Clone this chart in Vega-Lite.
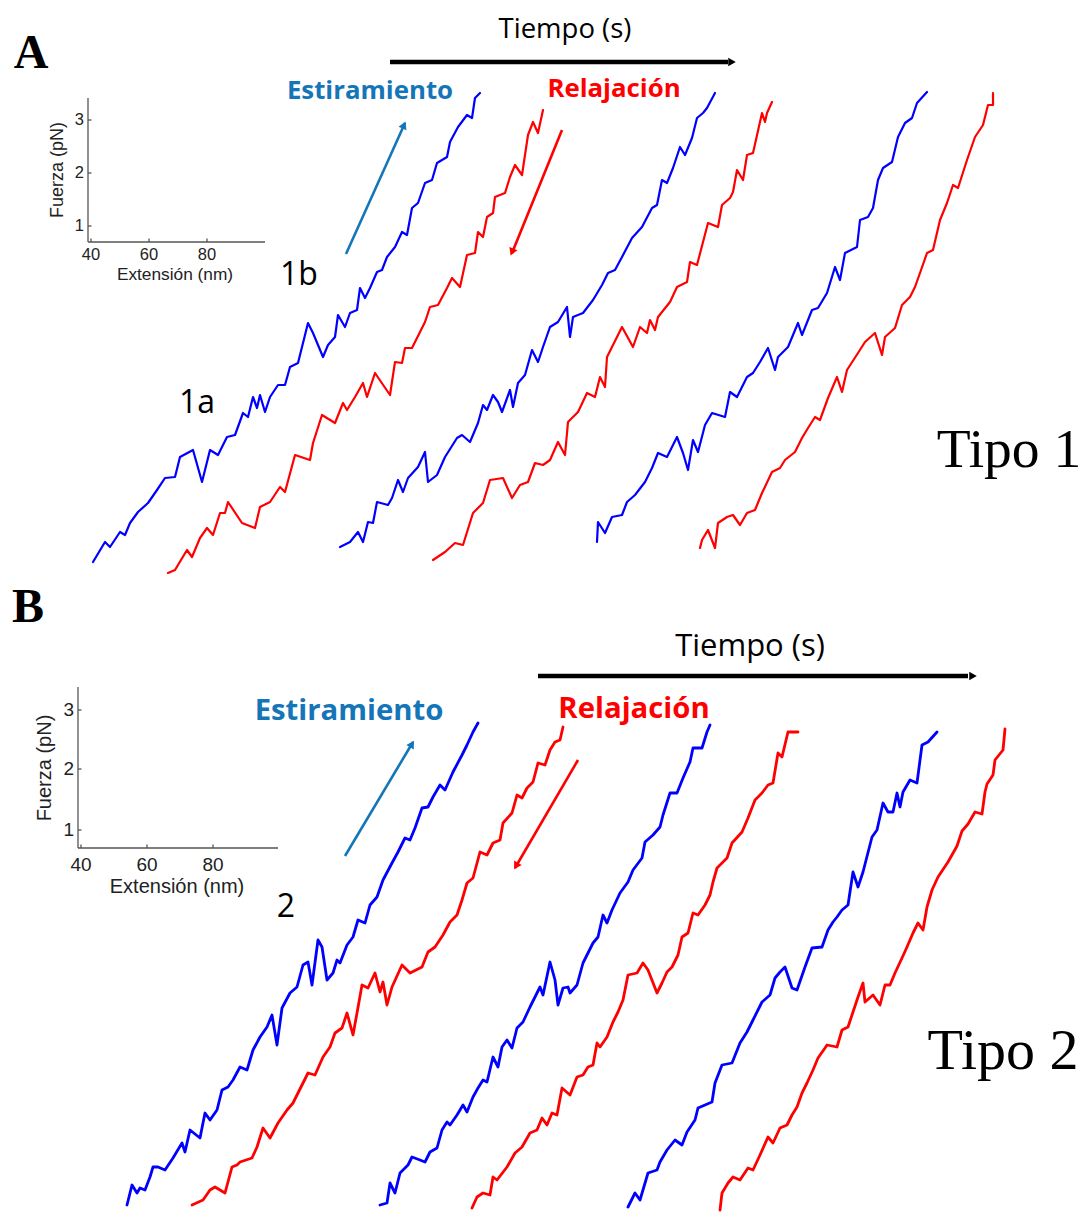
{
"$schema":"https://vega.github.io/schema/vega-lite/v6.json",
"width":1085,"height":1212,"padding":0,
"autosize":{"type":"fit","contains":"padding"},
"background":"white",
"config":{"view":{"stroke":null},"legend":{"disable":true}},
"datasets":{
"trazas":[
{"t":"A1","x":93,"y":562},{"t":"A1","x":105,"y":542},{"t":"A1","x":110,"y":547},{"t":"A1","x":120,"y":532},{"t":"A1","x":125,"y":535},{"t":"A1","x":130,"y":523},{"t":"A1","x":138,"y":512},{"t":"A1","x":148,"y":503},{"t":"A1","x":157,"y":490},{"t":"A1","x":165,"y":478},{"t":"A1","x":175,"y":477},{"t":"A1","x":180,"y":457},{"t":"A1","x":193,"y":450},{"t":"A1","x":202,"y":482},{"t":"A1","x":210,"y":450},{"t":"A1","x":218,"y":455},{"t":"A1","x":227,"y":437},{"t":"A1","x":235,"y":435},{"t":"A1","x":243,"y":413},{"t":"A1","x":248,"y":417},{"t":"A1","x":253,"y":397},{"t":"A1","x":257,"y":408},{"t":"A1","x":260,"y":395},{"t":"A1","x":265,"y":412},{"t":"A1","x":270,"y":397},{"t":"A1","x":278,"y":385},{"t":"A1","x":285,"y":385},{"t":"A1","x":290,"y":367},{"t":"A1","x":298,"y":363},{"t":"A1","x":308,"y":323},{"t":"A1","x":313,"y":333},{"t":"A1","x":323,"y":357},{"t":"A1","x":328,"y":345},{"t":"A1","x":335,"y":337},{"t":"A1","x":338,"y":315},{"t":"A1","x":345,"y":327},{"t":"A1","x":350,"y":313},{"t":"A1","x":357,"y":310},{"t":"A1","x":360,"y":288},{"t":"A1","x":365,"y":298},{"t":"A1","x":370,"y":288},{"t":"A1","x":377,"y":272},{"t":"A1","x":382,"y":270},{"t":"A1","x":387,"y":257},{"t":"A1","x":395,"y":247},{"t":"A1","x":402,"y":232},{"t":"A1","x":407,"y":235},{"t":"A1","x":412,"y":208},{"t":"A1","x":418,"y":203},{"t":"A1","x":425,"y":183},{"t":"A1","x":432,"y":180},{"t":"A1","x":437,"y":163},{"t":"A1","x":447,"y":157},{"t":"A1","x":450,"y":142},{"t":"A1","x":458,"y":127},{"t":"A1","x":467,"y":115},{"t":"A1","x":472,"y":118},{"t":"A1","x":475,"y":98},{"t":"A1","x":480,"y":93},
{"t":"A2","x":168,"y":573},{"t":"A2","x":175,"y":570},{"t":"A2","x":187,"y":550},{"t":"A2","x":192,"y":557},{"t":"A2","x":200,"y":538},{"t":"A2","x":207,"y":528},{"t":"A2","x":213,"y":535},{"t":"A2","x":220,"y":513},{"t":"A2","x":225,"y":513},{"t":"A2","x":228,"y":502},{"t":"A2","x":242,"y":523},{"t":"A2","x":255,"y":528},{"t":"A2","x":260,"y":507},{"t":"A2","x":270,"y":502},{"t":"A2","x":280,"y":487},{"t":"A2","x":285,"y":492},{"t":"A2","x":295,"y":455},{"t":"A2","x":310,"y":460},{"t":"A2","x":313,"y":443},{"t":"A2","x":322,"y":415},{"t":"A2","x":335,"y":423},{"t":"A2","x":343,"y":403},{"t":"A2","x":347,"y":410},{"t":"A2","x":355,"y":397},{"t":"A2","x":363,"y":383},{"t":"A2","x":367,"y":397},{"t":"A2","x":375,"y":373},{"t":"A2","x":390,"y":395},{"t":"A2","x":395,"y":362},{"t":"A2","x":402,"y":363},{"t":"A2","x":405,"y":348},{"t":"A2","x":412,"y":348},{"t":"A2","x":425,"y":322},{"t":"A2","x":430,"y":307},{"t":"A2","x":438,"y":305},{"t":"A2","x":447,"y":288},{"t":"A2","x":452,"y":278},{"t":"A2","x":460,"y":287},{"t":"A2","x":467,"y":255},{"t":"A2","x":475,"y":253},{"t":"A2","x":478,"y":232},{"t":"A2","x":483,"y":237},{"t":"A2","x":487,"y":217},{"t":"A2","x":493,"y":213},{"t":"A2","x":495,"y":197},{"t":"A2","x":505,"y":193},{"t":"A2","x":510,"y":177},{"t":"A2","x":515,"y":165},{"t":"A2","x":522,"y":175},{"t":"A2","x":528,"y":135},{"t":"A2","x":533,"y":122},{"t":"A2","x":538,"y":133},{"t":"A2","x":543,"y":110},
{"t":"A3","x":340,"y":547},{"t":"A3","x":350,"y":542},{"t":"A3","x":358,"y":532},{"t":"A3","x":363,"y":542},{"t":"A3","x":368,"y":522},{"t":"A3","x":373,"y":523},{"t":"A3","x":377,"y":502},{"t":"A3","x":388,"y":505},{"t":"A3","x":392,"y":498},{"t":"A3","x":398,"y":480},{"t":"A3","x":403,"y":492},{"t":"A3","x":408,"y":478},{"t":"A3","x":418,"y":467},{"t":"A3","x":425,"y":452},{"t":"A3","x":428,"y":482},{"t":"A3","x":437,"y":475},{"t":"A3","x":445,"y":457},{"t":"A3","x":457,"y":438},{"t":"A3","x":462,"y":435},{"t":"A3","x":470,"y":442},{"t":"A3","x":478,"y":423},{"t":"A3","x":483,"y":405},{"t":"A3","x":487,"y":410},{"t":"A3","x":493,"y":395},{"t":"A3","x":498,"y":402},{"t":"A3","x":502,"y":412},{"t":"A3","x":510,"y":390},{"t":"A3","x":513,"y":407},{"t":"A3","x":518,"y":383},{"t":"A3","x":525,"y":375},{"t":"A3","x":532,"y":350},{"t":"A3","x":538,"y":362},{"t":"A3","x":543,"y":347},{"t":"A3","x":550,"y":327},{"t":"A3","x":558,"y":322},{"t":"A3","x":567,"y":307},{"t":"A3","x":570,"y":337},{"t":"A3","x":573,"y":317},{"t":"A3","x":583,"y":313},{"t":"A3","x":593,"y":300},{"t":"A3","x":602,"y":285},{"t":"A3","x":608,"y":273},{"t":"A3","x":615,"y":270},{"t":"A3","x":622,"y":257},{"t":"A3","x":632,"y":238},{"t":"A3","x":642,"y":227},{"t":"A3","x":652,"y":208},{"t":"A3","x":657,"y":205},{"t":"A3","x":662,"y":180},{"t":"A3","x":667,"y":183},{"t":"A3","x":673,"y":168},{"t":"A3","x":680,"y":147},{"t":"A3","x":685,"y":155},{"t":"A3","x":692,"y":138},{"t":"A3","x":697,"y":118},{"t":"A3","x":703,"y":113},{"t":"A3","x":707,"y":108},{"t":"A3","x":715,"y":93},
{"t":"A4","x":433,"y":560},{"t":"A4","x":445,"y":552},{"t":"A4","x":455,"y":543},{"t":"A4","x":463,"y":545},{"t":"A4","x":473,"y":513},{"t":"A4","x":483,"y":503},{"t":"A4","x":490,"y":480},{"t":"A4","x":503,"y":478},{"t":"A4","x":512,"y":498},{"t":"A4","x":520,"y":485},{"t":"A4","x":528,"y":482},{"t":"A4","x":535,"y":463},{"t":"A4","x":543,"y":465},{"t":"A4","x":550,"y":460},{"t":"A4","x":558,"y":442},{"t":"A4","x":565,"y":455},{"t":"A4","x":568,"y":422},{"t":"A4","x":578,"y":412},{"t":"A4","x":587,"y":393},{"t":"A4","x":595,"y":397},{"t":"A4","x":600,"y":377},{"t":"A4","x":605,"y":387},{"t":"A4","x":607,"y":357},{"t":"A4","x":613,"y":345},{"t":"A4","x":622,"y":327},{"t":"A4","x":633,"y":347},{"t":"A4","x":640,"y":327},{"t":"A4","x":647,"y":333},{"t":"A4","x":650,"y":320},{"t":"A4","x":655,"y":330},{"t":"A4","x":658,"y":317},{"t":"A4","x":670,"y":302},{"t":"A4","x":677,"y":287},{"t":"A4","x":687,"y":282},{"t":"A4","x":690,"y":262},{"t":"A4","x":697,"y":265},{"t":"A4","x":708,"y":223},{"t":"A4","x":718,"y":227},{"t":"A4","x":722,"y":205},{"t":"A4","x":730,"y":198},{"t":"A4","x":733,"y":192},{"t":"A4","x":737,"y":170},{"t":"A4","x":743,"y":180},{"t":"A4","x":747,"y":155},{"t":"A4","x":753,"y":153},{"t":"A4","x":762,"y":113},{"t":"A4","x":765,"y":122},{"t":"A4","x":767,"y":113},{"t":"A4","x":772,"y":102},
{"t":"A5","x":597,"y":542},{"t":"A5","x":598,"y":522},{"t":"A5","x":605,"y":533},{"t":"A5","x":612,"y":517},{"t":"A5","x":622,"y":515},{"t":"A5","x":627,"y":502},{"t":"A5","x":635,"y":495},{"t":"A5","x":645,"y":482},{"t":"A5","x":652,"y":468},{"t":"A5","x":658,"y":453},{"t":"A5","x":667,"y":457},{"t":"A5","x":677,"y":437},{"t":"A5","x":683,"y":453},{"t":"A5","x":688,"y":470},{"t":"A5","x":693,"y":440},{"t":"A5","x":698,"y":452},{"t":"A5","x":705,"y":425},{"t":"A5","x":712,"y":413},{"t":"A5","x":725,"y":417},{"t":"A5","x":730,"y":392},{"t":"A5","x":737,"y":397},{"t":"A5","x":747,"y":377},{"t":"A5","x":753,"y":373},{"t":"A5","x":760,"y":362},{"t":"A5","x":768,"y":348},{"t":"A5","x":775,"y":370},{"t":"A5","x":778,"y":357},{"t":"A5","x":788,"y":347},{"t":"A5","x":798,"y":323},{"t":"A5","x":802,"y":335},{"t":"A5","x":812,"y":310},{"t":"A5","x":818,"y":308},{"t":"A5","x":827,"y":293},{"t":"A5","x":835,"y":267},{"t":"A5","x":840,"y":280},{"t":"A5","x":845,"y":253},{"t":"A5","x":857,"y":247},{"t":"A5","x":860,"y":220},{"t":"A5","x":868,"y":217},{"t":"A5","x":873,"y":208},{"t":"A5","x":878,"y":180},{"t":"A5","x":883,"y":168},{"t":"A5","x":892,"y":162},{"t":"A5","x":898,"y":137},{"t":"A5","x":905,"y":123},{"t":"A5","x":912,"y":118},{"t":"A5","x":917,"y":103},{"t":"A5","x":927,"y":92},
{"t":"A6","x":700,"y":548},{"t":"A6","x":702,"y":540},{"t":"A6","x":708,"y":530},{"t":"A6","x":715,"y":548},{"t":"A6","x":718,"y":523},{"t":"A6","x":727,"y":517},{"t":"A6","x":733,"y":515},{"t":"A6","x":740,"y":525},{"t":"A6","x":747,"y":513},{"t":"A6","x":755,"y":510},{"t":"A6","x":762,"y":493},{"t":"A6","x":772,"y":472},{"t":"A6","x":780,"y":468},{"t":"A6","x":785,"y":460},{"t":"A6","x":795,"y":452},{"t":"A6","x":802,"y":438},{"t":"A6","x":808,"y":428},{"t":"A6","x":815,"y":417},{"t":"A6","x":820,"y":420},{"t":"A6","x":828,"y":398},{"t":"A6","x":837,"y":377},{"t":"A6","x":842,"y":392},{"t":"A6","x":847,"y":370},{"t":"A6","x":858,"y":353},{"t":"A6","x":865,"y":342},{"t":"A6","x":875,"y":333},{"t":"A6","x":882,"y":355},{"t":"A6","x":885,"y":337},{"t":"A6","x":895,"y":328},{"t":"A6","x":902,"y":305},{"t":"A6","x":910,"y":297},{"t":"A6","x":915,"y":287},{"t":"A6","x":920,"y":273},{"t":"A6","x":927,"y":253},{"t":"A6","x":933,"y":250},{"t":"A6","x":940,"y":220},{"t":"A6","x":947,"y":203},{"t":"A6","x":953,"y":185},{"t":"A6","x":958,"y":188},{"t":"A6","x":967,"y":160},{"t":"A6","x":975,"y":137},{"t":"A6","x":983,"y":125},{"t":"A6","x":988,"y":105},{"t":"A6","x":993,"y":105},{"t":"A6","x":993,"y":93},
{"t":"B1","x":127,"y":1205},{"t":"B1","x":132,"y":1185},{"t":"B1","x":137,"y":1193},{"t":"B1","x":140,"y":1188},{"t":"B1","x":145,"y":1190},{"t":"B1","x":150,"y":1177},{"t":"B1","x":153,"y":1167},{"t":"B1","x":158,"y":1167},{"t":"B1","x":165,"y":1170},{"t":"B1","x":173,"y":1158},{"t":"B1","x":182,"y":1143},{"t":"B1","x":185,"y":1152},{"t":"B1","x":190,"y":1130},{"t":"B1","x":200,"y":1138},{"t":"B1","x":205,"y":1113},{"t":"B1","x":210,"y":1120},{"t":"B1","x":217,"y":1110},{"t":"B1","x":222,"y":1090},{"t":"B1","x":228,"y":1087},{"t":"B1","x":233,"y":1080},{"t":"B1","x":240,"y":1067},{"t":"B1","x":247,"y":1070},{"t":"B1","x":253,"y":1050},{"t":"B1","x":260,"y":1037},{"t":"B1","x":267,"y":1027},{"t":"B1","x":272,"y":1015},{"t":"B1","x":277,"y":1045},{"t":"B1","x":282,"y":1008},{"t":"B1","x":290,"y":993},{"t":"B1","x":297,"y":987},{"t":"B1","x":303,"y":965},{"t":"B1","x":308,"y":962},{"t":"B1","x":312,"y":985},{"t":"B1","x":318,"y":940},{"t":"B1","x":322,"y":947},{"t":"B1","x":327,"y":980},{"t":"B1","x":333,"y":973},{"t":"B1","x":337,"y":960},{"t":"B1","x":340,"y":963},{"t":"B1","x":347,"y":945},{"t":"B1","x":353,"y":937},{"t":"B1","x":358,"y":920},{"t":"B1","x":365,"y":923},{"t":"B1","x":370,"y":905},{"t":"B1","x":377,"y":897},{"t":"B1","x":383,"y":880},{"t":"B1","x":392,"y":863},{"t":"B1","x":398,"y":852},{"t":"B1","x":405,"y":838},{"t":"B1","x":410,"y":840},{"t":"B1","x":415,"y":828},{"t":"B1","x":422,"y":808},{"t":"B1","x":428,"y":807},{"t":"B1","x":433,"y":797},{"t":"B1","x":440,"y":785},{"t":"B1","x":445,"y":790},{"t":"B1","x":453,"y":772},{"t":"B1","x":462,"y":755},{"t":"B1","x":467,"y":745},{"t":"B1","x":473,"y":732},{"t":"B1","x":478,"y":723},
{"t":"B2","x":192,"y":1205},{"t":"B2","x":203,"y":1200},{"t":"B2","x":210,"y":1190},{"t":"B2","x":215,"y":1187},{"t":"B2","x":225,"y":1193},{"t":"B2","x":232,"y":1167},{"t":"B2","x":237,"y":1165},{"t":"B2","x":240,"y":1162},{"t":"B2","x":252,"y":1158},{"t":"B2","x":257,"y":1147},{"t":"B2","x":263,"y":1128},{"t":"B2","x":270,"y":1138},{"t":"B2","x":278,"y":1123},{"t":"B2","x":287,"y":1110},{"t":"B2","x":293,"y":1103},{"t":"B2","x":303,"y":1083},{"t":"B2","x":308,"y":1073},{"t":"B2","x":315,"y":1075},{"t":"B2","x":323,"y":1057},{"t":"B2","x":330,"y":1047},{"t":"B2","x":335,"y":1033},{"t":"B2","x":342,"y":1028},{"t":"B2","x":347,"y":1013},{"t":"B2","x":353,"y":1035},{"t":"B2","x":357,"y":1013},{"t":"B2","x":362,"y":985},{"t":"B2","x":368,"y":988},{"t":"B2","x":375,"y":973},{"t":"B2","x":380,"y":992},{"t":"B2","x":383,"y":982},{"t":"B2","x":387,"y":1005},{"t":"B2","x":392,"y":987},{"t":"B2","x":402,"y":965},{"t":"B2","x":410,"y":973},{"t":"B2","x":422,"y":967},{"t":"B2","x":428,"y":952},{"t":"B2","x":435,"y":947},{"t":"B2","x":443,"y":935},{"t":"B2","x":450,"y":922},{"t":"B2","x":457,"y":915},{"t":"B2","x":462,"y":900},{"t":"B2","x":467,"y":883},{"t":"B2","x":473,"y":878},{"t":"B2","x":480,"y":852},{"t":"B2","x":487,"y":855},{"t":"B2","x":493,"y":843},{"t":"B2","x":500,"y":840},{"t":"B2","x":503,"y":823},{"t":"B2","x":512,"y":813},{"t":"B2","x":517,"y":795},{"t":"B2","x":522,"y":798},{"t":"B2","x":527,"y":788},{"t":"B2","x":533,"y":782},{"t":"B2","x":538,"y":763},{"t":"B2","x":545,"y":765},{"t":"B2","x":550,"y":750},{"t":"B2","x":555,"y":742},{"t":"B2","x":560,"y":740},{"t":"B2","x":563,"y":727},
{"t":"B3","x":380,"y":1205},{"t":"B3","x":387,"y":1203},{"t":"B3","x":390,"y":1183},{"t":"B3","x":395,"y":1193},{"t":"B3","x":400,"y":1173},{"t":"B3","x":408,"y":1165},{"t":"B3","x":412,"y":1157},{"t":"B3","x":420,"y":1160},{"t":"B3","x":425,"y":1162},{"t":"B3","x":430,"y":1152},{"t":"B3","x":437,"y":1148},{"t":"B3","x":442,"y":1130},{"t":"B3","x":447,"y":1122},{"t":"B3","x":450,"y":1125},{"t":"B3","x":457,"y":1115},{"t":"B3","x":463,"y":1105},{"t":"B3","x":467,"y":1112},{"t":"B3","x":473,"y":1097},{"t":"B3","x":478,"y":1088},{"t":"B3","x":483,"y":1080},{"t":"B3","x":487,"y":1082},{"t":"B3","x":493,"y":1057},{"t":"B3","x":498,"y":1067},{"t":"B3","x":502,"y":1047},{"t":"B3","x":507,"y":1040},{"t":"B3","x":512,"y":1048},{"t":"B3","x":517,"y":1028},{"t":"B3","x":523,"y":1022},{"t":"B3","x":530,"y":1007},{"t":"B3","x":535,"y":997},{"t":"B3","x":540,"y":987},{"t":"B3","x":543,"y":995},{"t":"B3","x":550,"y":962},{"t":"B3","x":555,"y":980},{"t":"B3","x":558,"y":1005},{"t":"B3","x":563,"y":988},{"t":"B3","x":568,"y":987},{"t":"B3","x":570,"y":993},{"t":"B3","x":577,"y":985},{"t":"B3","x":583,"y":963},{"t":"B3","x":593,"y":943},{"t":"B3","x":598,"y":937},{"t":"B3","x":603,"y":915},{"t":"B3","x":607,"y":923},{"t":"B3","x":612,"y":910},{"t":"B3","x":620,"y":893},{"t":"B3","x":628,"y":882},{"t":"B3","x":633,"y":870},{"t":"B3","x":642,"y":858},{"t":"B3","x":645,"y":842},{"t":"B3","x":653,"y":835},{"t":"B3","x":660,"y":827},{"t":"B3","x":663,"y":815},{"t":"B3","x":670,"y":793},{"t":"B3","x":677,"y":793},{"t":"B3","x":683,"y":778},{"t":"B3","x":690,"y":762},{"t":"B3","x":693,"y":748},{"t":"B3","x":702,"y":748},{"t":"B3","x":707,"y":732},{"t":"B3","x":710,"y":725},
{"t":"B4","x":472,"y":1208},{"t":"B4","x":477,"y":1197},{"t":"B4","x":483,"y":1193},{"t":"B4","x":490,"y":1195},{"t":"B4","x":493,"y":1177},{"t":"B4","x":497,"y":1180},{"t":"B4","x":507,"y":1167},{"t":"B4","x":515,"y":1153},{"t":"B4","x":522,"y":1147},{"t":"B4","x":530,"y":1133},{"t":"B4","x":537,"y":1130},{"t":"B4","x":542,"y":1118},{"t":"B4","x":547,"y":1125},{"t":"B4","x":552,"y":1113},{"t":"B4","x":557,"y":1115},{"t":"B4","x":562,"y":1088},{"t":"B4","x":570,"y":1095},{"t":"B4","x":577,"y":1077},{"t":"B4","x":583,"y":1075},{"t":"B4","x":588,"y":1067},{"t":"B4","x":593,"y":1065},{"t":"B4","x":597,"y":1043},{"t":"B4","x":600,"y":1047},{"t":"B4","x":607,"y":1037},{"t":"B4","x":613,"y":1022},{"t":"B4","x":618,"y":1012},{"t":"B4","x":623,"y":1000},{"t":"B4","x":628,"y":975},{"t":"B4","x":637,"y":973},{"t":"B4","x":643,"y":963},{"t":"B4","x":648,"y":970},{"t":"B4","x":657,"y":993},{"t":"B4","x":662,"y":983},{"t":"B4","x":667,"y":972},{"t":"B4","x":672,"y":967},{"t":"B4","x":678,"y":955},{"t":"B4","x":682,"y":937},{"t":"B4","x":688,"y":933},{"t":"B4","x":693,"y":913},{"t":"B4","x":698,"y":915},{"t":"B4","x":705,"y":905},{"t":"B4","x":710,"y":895},{"t":"B4","x":713,"y":882},{"t":"B4","x":717,"y":868},{"t":"B4","x":727,"y":858},{"t":"B4","x":732,"y":843},{"t":"B4","x":742,"y":832},{"t":"B4","x":748,"y":818},{"t":"B4","x":755,"y":800},{"t":"B4","x":762,"y":793},{"t":"B4","x":768,"y":785},{"t":"B4","x":773,"y":783},{"t":"B4","x":778,"y":753},{"t":"B4","x":782,"y":757},{"t":"B4","x":788,"y":732},{"t":"B4","x":798,"y":732},
{"t":"B5","x":628,"y":1207},{"t":"B5","x":635,"y":1193},{"t":"B5","x":640,"y":1200},{"t":"B5","x":648,"y":1173},{"t":"B5","x":657,"y":1170},{"t":"B5","x":660,"y":1162},{"t":"B5","x":667,"y":1150},{"t":"B5","x":675,"y":1140},{"t":"B5","x":682,"y":1145},{"t":"B5","x":687,"y":1132},{"t":"B5","x":695,"y":1120},{"t":"B5","x":698,"y":1108},{"t":"B5","x":712,"y":1102},{"t":"B5","x":715,"y":1083},{"t":"B5","x":722,"y":1065},{"t":"B5","x":732,"y":1063},{"t":"B5","x":740,"y":1043},{"t":"B5","x":747,"y":1032},{"t":"B5","x":753,"y":1020},{"t":"B5","x":762,"y":1002},{"t":"B5","x":770,"y":995},{"t":"B5","x":775,"y":978},{"t":"B5","x":780,"y":972},{"t":"B5","x":785,"y":967},{"t":"B5","x":792,"y":988},{"t":"B5","x":797,"y":990},{"t":"B5","x":805,"y":967},{"t":"B5","x":812,"y":948},{"t":"B5","x":822,"y":947},{"t":"B5","x":828,"y":930},{"t":"B5","x":833,"y":922},{"t":"B5","x":837,"y":917},{"t":"B5","x":842,"y":910},{"t":"B5","x":848,"y":905},{"t":"B5","x":853,"y":872},{"t":"B5","x":858,"y":887},{"t":"B5","x":863,"y":872},{"t":"B5","x":872,"y":837},{"t":"B5","x":877,"y":830},{"t":"B5","x":883,"y":803},{"t":"B5","x":888,"y":812},{"t":"B5","x":893,"y":812},{"t":"B5","x":897,"y":793},{"t":"B5","x":900,"y":807},{"t":"B5","x":903,"y":792},{"t":"B5","x":910,"y":780},{"t":"B5","x":917,"y":783},{"t":"B5","x":922,"y":745},{"t":"B5","x":928,"y":742},{"t":"B5","x":937,"y":732},
{"t":"B6","x":720,"y":1210},{"t":"B6","x":722,"y":1193},{"t":"B6","x":728,"y":1183},{"t":"B6","x":733,"y":1177},{"t":"B6","x":740,"y":1180},{"t":"B6","x":748,"y":1168},{"t":"B6","x":753,"y":1170},{"t":"B6","x":760,"y":1155},{"t":"B6","x":768,"y":1137},{"t":"B6","x":773,"y":1143},{"t":"B6","x":780,"y":1128},{"t":"B6","x":787,"y":1125},{"t":"B6","x":792,"y":1115},{"t":"B6","x":797,"y":1107},{"t":"B6","x":802,"y":1093},{"t":"B6","x":807,"y":1083},{"t":"B6","x":813,"y":1070},{"t":"B6","x":818,"y":1058},{"t":"B6","x":825,"y":1048},{"t":"B6","x":827,"y":1045},{"t":"B6","x":837,"y":1047},{"t":"B6","x":842,"y":1030},{"t":"B6","x":848,"y":1027},{"t":"B6","x":853,"y":1012},{"t":"B6","x":858,"y":997},{"t":"B6","x":863,"y":983},{"t":"B6","x":865,"y":1002},{"t":"B6","x":873,"y":995},{"t":"B6","x":880,"y":1005},{"t":"B6","x":885,"y":985},{"t":"B6","x":890,"y":985},{"t":"B6","x":895,"y":973},{"t":"B6","x":902,"y":958},{"t":"B6","x":907,"y":947},{"t":"B6","x":913,"y":933},{"t":"B6","x":918,"y":923},{"t":"B6","x":923,"y":930},{"t":"B6","x":927,"y":907},{"t":"B6","x":932,"y":890},{"t":"B6","x":938,"y":877},{"t":"B6","x":948,"y":862},{"t":"B6","x":957,"y":846},{"t":"B6","x":962,"y":831},{"t":"B6","x":968,"y":824},{"t":"B6","x":975,"y":812},{"t":"B6","x":982,"y":814},{"t":"B6","x":985,"y":792},{"t":"B6","x":987,"y":784},{"t":"B6","x":993,"y":775},{"t":"B6","x":995,"y":760},{"t":"B6","x":1003,"y":750},{"t":"B6","x":1005,"y":729}
],
"ejes":[
{"x":88,"y":98,"x2":88,"y2":242},{"x":88,"y":242,"x2":265,"y2":242},
{"x":91,"y":242,"x2":91,"y2":238.5},{"x":149,"y":242,"x2":149,"y2":238.5},{"x":207,"y":242,"x2":207,"y2":238.5},
{"x":88,"y":120,"x2":91.5,"y2":120},{"x":88,"y":173,"x2":91.5,"y2":173},{"x":88,"y":226,"x2":91.5,"y2":226},
{"x":78,"y":687,"x2":78,"y2":848},{"x":78,"y":848,"x2":278,"y2":848},
{"x":81,"y":848,"x2":81,"y2":844.5},{"x":147,"y":848,"x2":147,"y2":844.5},{"x":213,"y":848,"x2":213,"y2":844.5},
{"x":78,"y":710,"x2":81.5,"y2":710},{"x":78,"y":769,"x2":81.5,"y2":769},{"x":78,"y":830,"x2":81.5,"y2":830}
],
"flechas":[
{"f":"T","x":390,"y":62,"x2":728,"y2":62},
{"f":"T","x":538,"y":676,"x2":968,"y2":676},
{"f":"E","x":346,"y":254,"x2":405,"y2":123},
{"f":"R","x":562,"y":130,"x2":512,"y2":253},
{"f":"E","x":345,"y":856,"x2":413,"y2":742},
{"f":"R","x":578,"y":760,"x2":515,"y2":868}
],
"puntas":[
{"f":"T","x":732,"y":62,"rumbo":90},
{"f":"T","x":973,"y":676,"rumbo":90},
{"f":"E","x":404,"y":125,"rumbo":24},
{"f":"R","x":512,"y":252,"rumbo":202},
{"f":"E","x":412,"y":744,"rumbo":31},
{"f":"R","x":516,"y":866,"rumbo":210}
],
"textos":[
{"p":"A","k":"letra","label":"A","x":31,"y":54},
{"p":"B","k":"letra","label":"B","x":28,"y":608},
{"p":"A","k":"tiempo","label":"Tiempo (s)","x":565,"y":30},
{"p":"B","k":"tiempo","label":"Tiempo (s)","x":750,"y":647},
{"p":"A","k":"fase","f":"E","label":"Estiramiento","x":370,"y":91},
{"p":"A","k":"fase","f":"R","label":"Relajación","x":614,"y":89},
{"p":"B","k":"fase","f":"E","label":"Estiramiento","x":349,"y":711},
{"p":"B","k":"fase","f":"R","label":"Relajación","x":634,"y":709},
{"p":"A","k":"etiqueta","label":"1b","x":299,"y":275},
{"p":"A","k":"etiqueta","label":"1a","x":197,"y":403},
{"p":"B","k":"etiqueta","label":"2","x":286,"y":907},
{"p":"A","k":"tipo","label":"Tipo 1","x":1009,"y":450},
{"p":"B","k":"tipo","label":"Tipo 2","x":1003,"y":1052},
{"p":"A","k":"tickx","label":"40","x":91,"y":255},
{"p":"A","k":"tickx","label":"60","x":149,"y":255},
{"p":"A","k":"tickx","label":"80","x":207,"y":255},
{"p":"A","k":"ticky","label":"3","x":84,"y":120},
{"p":"A","k":"ticky","label":"2","x":84,"y":173},
{"p":"A","k":"ticky","label":"1","x":84,"y":226},
{"p":"B","k":"tickx","label":"40","x":81,"y":865},
{"p":"B","k":"tickx","label":"60","x":147,"y":865},
{"p":"B","k":"tickx","label":"80","x":213,"y":865},
{"p":"B","k":"ticky","label":"3","x":74,"y":710},
{"p":"B","k":"ticky","label":"2","x":74,"y":769},
{"p":"B","k":"ticky","label":"1","x":74,"y":830},
{"p":"A","k":"titx","label":"Extensión (nm)","x":175,"y":275},
{"p":"A","k":"tity","label":"Fuerza (pN)","x":58,"y":170},
{"p":"B","k":"titx","label":"Extensión (nm)","x":177,"y":887},
{"p":"B","k":"tity","label":"Fuerza (pN)","x":45,"y":768}
]
},
"encoding":{
"x":{"field":"x","type":"quantitative","scale":{"domain":[0,1085],"nice":false,"zero":false},"axis":null},
"y":{"field":"y","type":"quantitative","scale":{"domain":[0,1212],"nice":false,"zero":false,"reverse":true},"axis":null}
},
"resolve":{"scale":{"size":"independent"}},
"layer":[
{"data":{"name":"trazas"},
 "transform":[{"window":[{"op":"row_number","as":"i"}],"groupby":["t"]},{"filter":"test(/^A/, datum.t)"}],
 "mark":{"type":"line","strokeWidth":2.2,"strokeJoin":"round","strokeCap":"round"},
 "encoding":{"color":{"field":"t","type":"nominal","scale":{"domain":["A1","A2","A3","A4","A5","A6","B1","B2","B3","B4","B5","B6"],"range":["#0000ff","#ff0000","#0000ff","#ff0000","#0000ff","#ff0000","#0000ff","#ff0000","#0000ff","#ff0000","#0000ff","#ff0000"]}},"order":{"field":"i","type":"quantitative"}}},
{"data":{"name":"trazas"},
 "transform":[{"window":[{"op":"row_number","as":"i"}],"groupby":["t"]},{"filter":"test(/^B/, datum.t)"}],
 "mark":{"type":"line","strokeWidth":2.8,"strokeJoin":"round","strokeCap":"round"},
 "encoding":{"color":{"field":"t","type":"nominal"},"order":{"field":"i","type":"quantitative"}}},
{"data":{"name":"ejes"},
 "mark":{"type":"rule","color":"#555555","strokeWidth":1.3},
 "encoding":{"x2":{"field":"x2"},"y2":{"field":"y2"}}},
{"data":{"name":"flechas"},"transform":[{"filter":"datum.f != 'T'"}],
 "mark":{"type":"rule","strokeCap":"butt","strokeWidth":2.6},
 "encoding":{"x2":{"field":"x2"},"y2":{"field":"y2"},
  "stroke":{"field":"f","type":"nominal","scale":{"domain":["E","R","T"],"range":["#1476b8","#ff0000","#000000"]}}}},
{"data":{"name":"flechas"},"transform":[{"filter":"datum.f == 'T'"}],
 "mark":{"type":"rule","strokeCap":"butt","strokeWidth":4.5,"color":"#000000"},
 "encoding":{"x2":{"field":"x2"},"y2":{"field":"y2"}}},
{"data":{"name":"puntas"},
 "mark":{"type":"point","shape":"triangle-up","filled":true,"opacity":1,"strokeWidth":0},
 "encoding":{
  "fill":{"field":"f","type":"nominal","scale":{"domain":["E","R","T"],"range":["#1476b8","#ff0000","#000000"]}},
  "size":{"field":"f","type":"nominal","scale":{"domain":["E","R","T"],"range":[75,75,300]}},
  "angle":{"field":"rumbo","type":"quantitative","scale":null}}},
{"data":{"name":"textos"},"transform":[{"filter":"datum.k == 'letra'"}],
 "mark":{"type":"text","font":"Liberation Serif","fontWeight":"bold","fontSize":48,"align":"center","baseline":"middle","color":"black"},
 "encoding":{"text":{"field":"label"}}},
{"data":{"name":"textos"},"transform":[{"filter":"datum.k == 'tiempo'"}],
 "mark":{"type":"text","font":"Open Sans","align":"center","baseline":"middle","color":"black"},
 "encoding":{"text":{"field":"label"},"size":{"field":"p","type":"nominal","scale":{"domain":["A","B"],"range":[27.5,31]}}}},
{"data":{"name":"textos"},"transform":[{"filter":"datum.k == 'fase'"}],
 "mark":{"type":"text","font":"Open Sans","fontWeight":"bold","align":"center","baseline":"middle"},
 "encoding":{"text":{"field":"label"},
  "fill":{"field":"f","type":"nominal"},
  "size":{"field":"p","type":"nominal","scale":{"domain":["A","B"],"range":[25.8,29.3]}}}},
{"data":{"name":"textos"},"transform":[{"filter":"datum.k == 'etiqueta'"}],
 "mark":{"type":"text","font":"Open Sans","fontSize":32,"align":"center","baseline":"middle","color":"black"},
 "encoding":{"text":{"field":"label"}}},
{"data":{"name":"textos"},"transform":[{"filter":"datum.k == 'tipo'"}],
 "mark":{"type":"text","font":"Liberation Serif","align":"center","baseline":"middle","color":"black"},
 "encoding":{"text":{"field":"label"},"size":{"field":"p","type":"nominal","scale":{"domain":["A","B"],"range":[55.5,58]}}}},
{"data":{"name":"textos"},"transform":[{"filter":"datum.k == 'tickx'"}],
 "mark":{"type":"text","font":"Liberation Sans","align":"center","baseline":"middle","color":"#222222"},
 "encoding":{"text":{"field":"label"},"size":{"field":"p","type":"nominal","scale":{"domain":["A","B"],"range":[16.5,19]}}}},
{"data":{"name":"textos"},"transform":[{"filter":"datum.k == 'titx'"}],
 "mark":{"type":"text","font":"Liberation Sans","align":"center","baseline":"middle","color":"#222222"},
 "encoding":{"text":{"field":"label"},"size":{"field":"p","type":"nominal","scale":{"domain":["A","B"],"range":[17.3,20]}}}},
{"data":{"name":"textos"},"transform":[{"filter":"datum.k == 'ticky'"}],
 "mark":{"type":"text","font":"Liberation Sans","align":"right","baseline":"middle","color":"#222222"},
 "encoding":{"text":{"field":"label"},"size":{"field":"p","type":"nominal","scale":{"domain":["A","B"],"range":[16.5,19]}}}},
{"data":{"name":"textos"},"transform":[{"filter":"datum.k == 'tity'"}],
 "mark":{"type":"text","font":"Liberation Sans","align":"center","baseline":"middle","angle":270,"color":"#222222"},
 "encoding":{"text":{"field":"label"},"size":{"field":"p","type":"nominal","scale":{"domain":["A","B"],"range":[18,20]}}}}
]
}
